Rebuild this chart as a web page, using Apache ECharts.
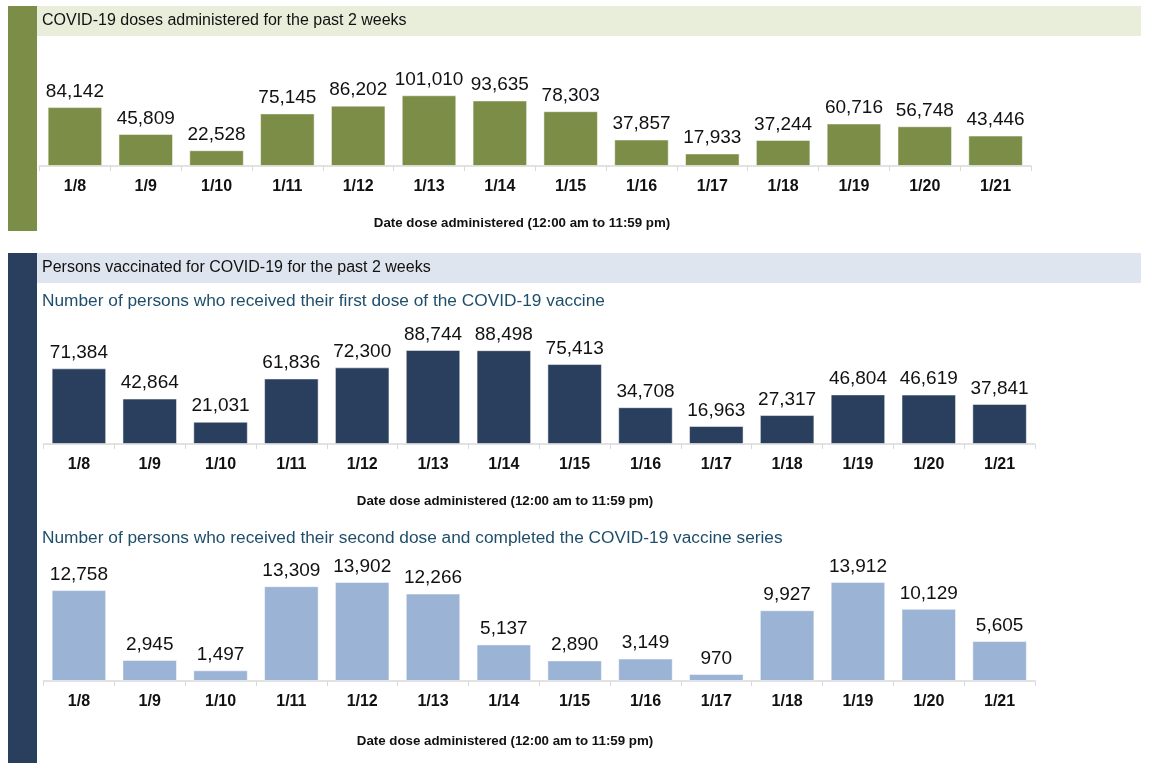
<!DOCTYPE html>
<html><head><meta charset="utf-8">
<script src="https://cdn.jsdelivr.net/npm/echarts@6/dist/echarts.min.js"></script>
<style>html,body{margin:0;padding:0;background:#fff}#c{width:1149px;height:768px}</style>
</head><body><div id="c"></div>
<script>
const dates = ['1/8','1/9','1/10','1/11','1/12','1/13','1/14','1/15','1/16','1/17','1/18','1/19','1/20','1/21'];
const totalDoses = [84142,45809,22528,75145,86202,101010,93635,78303,37857,17933,37244,60716,56748,43446];
const firstDoses = [71384,42864,21031,61836,72300,88744,88498,75413,34708,16963,27317,46804,46619,37841];
const secondDoses = [12758,2945,1497,13309,13902,12266,5137,2890,3149,970,9927,13912,10129,5605];

const titleTop = 'COVID-19 doses administered for the past 2 weeks';
const titleBottom = 'Persons vaccinated for COVID-19 for the past 2 weeks';
const subFirst = 'Number of persons who received their first dose of the COVID-19 vaccine';
const subSecond = 'Number of persons who received their second dose and completed the COVID-19 vaccine series';
const xName = 'Date dose administered (12:00 am to 11:59 pm)';

const FONT = '"Liberation Sans", Arial, sans-serif';
const GREEN = '#7b8d46', NAVY = '#2a3f5d', LIGHT = '#9bb3d5';

const chart = echarts.init(document.getElementById('c'));
const fmt = p => p.value.toLocaleString('en-US');

const grids = [
  {left: 39.5, right: 118, top: 82, bottom: 602},
  {left: 43.5, right: 114, top: 338, bottom: 324},
  {left: 43.5, right: 114, top: 567, bottom: 87}
];
const maxes = [120000, 100000, 16000];
const colors = [GREEN, NAVY, LIGHT];
const datas = [totalDoses, firstDoses, secondDoses];

const xAxes = grids.map((g, i) => ({
  type: 'category', gridIndex: i, data: dates,
  axisLine: {lineStyle: {color: '#d9d9d9', width: 1.5}},
  axisTick: {show: true, length: 5, lineStyle: {color: '#d9d9d9'}},
  axisLabel: {color: '#111', fontFamily: FONT, fontSize: 16, fontWeight: 'bold', margin: 13}
}));
const yAxes = grids.map((g, i) => ({type: 'value', gridIndex: i, min: 0, max: maxes[i], show: false, splitLine: {show: false}}));
const series = datas.map((d, i) => ({
  type: 'bar', xAxisIndex: i, yAxisIndex: i, data: d, barWidth: '77%',
  itemStyle: {color: colors[i], borderColor: 'rgba(255,255,255,0.5)', borderWidth: 1},
  label: {show: true, position: 'top', distance: 6, formatter: fmt, color: '#111', fontFamily: FONT, fontSize: 19},
  silent: true, animation: false
}));

const graphic = [
  {type: 'rect', shape: {x: 8, y: 6, width: 29, height: 225}, style: {fill: GREEN}},
  {type: 'rect', shape: {x: 37, y: 6, width: 1104, height: 30}, style: {fill: '#e9eedb'}},
  {type: 'text', x: 42, y: 21, style: {text: titleTop, fill: '#111', font: '16px ' + FONT, textVerticalAlign: 'middle'}},
  {type: 'rect', shape: {x: 8, y: 253, width: 29, height: 510}, style: {fill: NAVY}},
  {type: 'rect', shape: {x: 37, y: 253, width: 1104, height: 30}, style: {fill: '#dfe5ef'}},
  {type: 'text', x: 42, y: 268, style: {text: titleBottom, fill: '#111', font: '16px ' + FONT, textVerticalAlign: 'middle'}},
  {type: 'text', x: 42, y: 301, style: {text: subFirst, fill: '#1f4e6b', font: '17.3px ' + FONT, textVerticalAlign: 'middle'}},
  {type: 'text', x: 42, y: 538, style: {text: subSecond, fill: '#1f4e6b', font: '17.3px ' + FONT, textVerticalAlign: 'middle'}},
  {type: 'text', x: 522, y: 223, style: {text: xName, fill: '#111', font: 'bold 13.3px ' + FONT, textAlign: 'center', textVerticalAlign: 'middle'}},
  {type: 'text', x: 505, y: 501, style: {text: xName, fill: '#111', font: 'bold 13.3px ' + FONT, textAlign: 'center', textVerticalAlign: 'middle'}},
  {type: 'text', x: 505, y: 741, style: {text: xName, fill: '#111', font: 'bold 13.3px ' + FONT, textAlign: 'center', textVerticalAlign: 'middle'}}
];

chart.setOption({animation: false, grid: grids, xAxis: xAxes, yAxis: yAxes, series, graphic});
</script></body></html>
